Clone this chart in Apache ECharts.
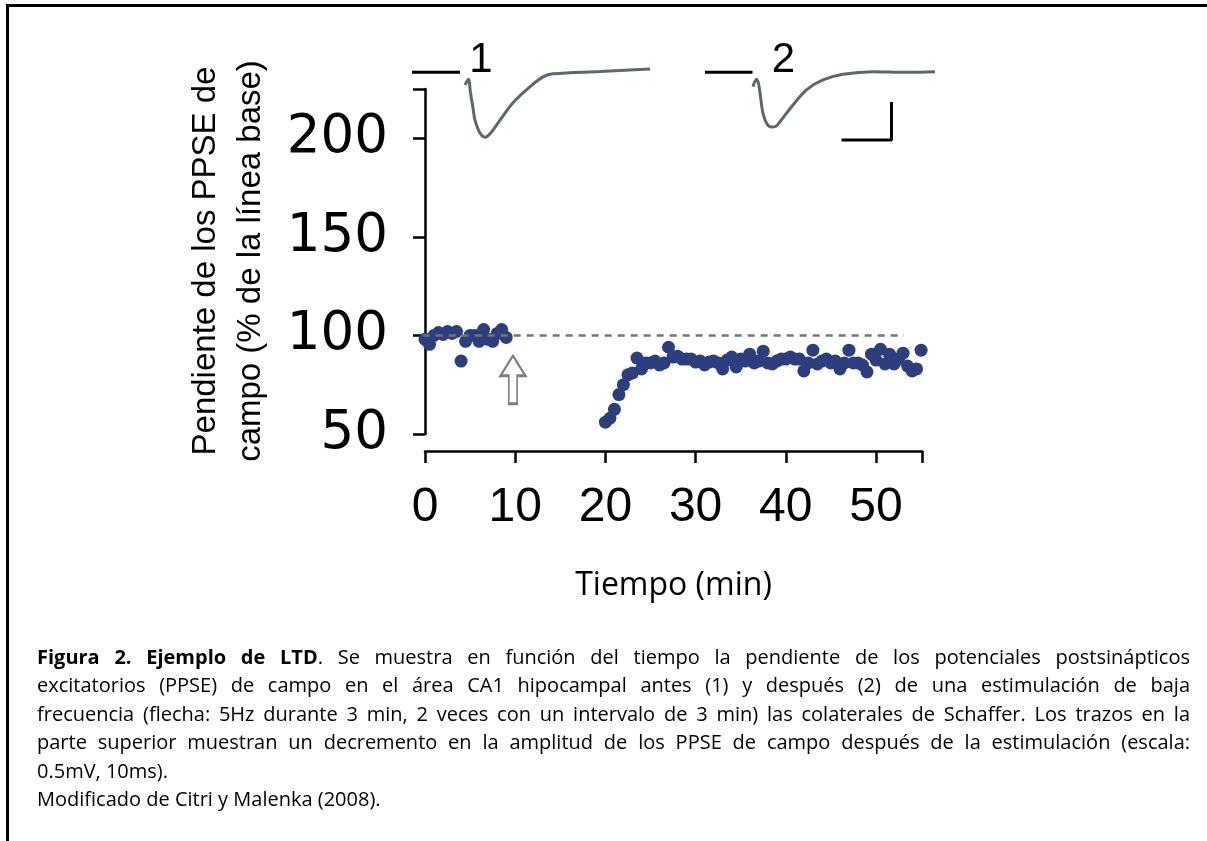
<!DOCTYPE html>
<html><head><meta charset="utf-8">
<script src="https://cdn.jsdelivr.net/npm/echarts@6/dist/echarts.min.js"></script>
<style>html,body{margin:0;padding:0;background:#fff}#c{width:1207px;height:841px}</style>
</head><body><div id="c"></div>
<script>
// ---- data ----
const baselineTime  = [0,0.5,1,1.5,2,2.5,3,3.5,4,4.5,5,5.5,6,6.5,7,7.5,8,8.5,9];
const baselineSlope = [98,95.5,100,101.5,100.5,102,101,102,87,97,100,100,97,103,98,97,101,103,99];
const postTime = [20,20.5,21,21.5,22,22.5,23,23.5,24,24.5,25,25.5,26,26.5,27,27.5,28,28.5,29,29.5,30,30.5,31,31.5,32,32.5,33,33.5,34,34.5,35,35.5,36,36.5,37,37.5,38,38.5,39,39.5,40,40.5,41,41.5,42,42.5,43,43.5,44,44.5,45,45.5,46,46.5,47,47.5,48,48.5,49,49.5,50,50.5,51,51.5,52,52.5,53,53.5,54,54.5,55];
const postSlope = [56,58,62.5,70,75,80,81,88.5,83,86,86,87,85,86,94,89,89.5,88,88,88,86.5,87,85,86.5,87,86,83,87.5,89,84,88,87,90.5,86,87,92,86,85.5,87,88,88,89,88,88,82,86,92.5,85.5,87,88,86,87,83,86,92.5,86,86,85,81.5,90.5,87.5,93,85.5,90.5,85.5,88,91,84.5,82,83,92.5];
const xTickLabels = [0,10,20,30,40,50];
const xAxisMax = 55.1;
const yTickLabels = [50,100,150,200];
const yAxisMin = 50, yAxisMax = 225;
const baselineRefTime = [-1.7, 53.1];
const baselineRefValue = 100;
const stimulusTime = 9.75, stimulusLevel = 77.5;
// sample traces: [time ms, amplitude mV]
const trace1Base = [[0,0],[9.6,0]];
const trace1 = [[10.6,-0.167],[11.27,-0.092],[11.7,-0.27],[12.2,-0.47],[12.6,-0.63],[13.6,-0.80],[14.6,-0.855],[15.6,-0.81],[17.6,-0.63],[20.2,-0.40],[23.6,-0.19],[26.2,-0.06],[28.2,-0.02],[37.6,0.01],[47.6,0.043]];
const trace2Base = [[58.6,0],[68.1,0]];
const trace2 = [[68.2,-0.19],[68.9,-0.092],[69.3,-0.15],[69.6,-0.27],[70.2,-0.54],[71.0,-0.68],[71.9,-0.72],[72.8,-0.71],[73.6,-0.65],[76.2,-0.43],[78.9,-0.23],[82.2,-0.10],[86.2,-0.026],[92.2,0.008],[99,0],[104.6,0.008]];
const scaleBar = [[85.9,-0.89],[95.9,-0.89],[95.9,-0.39]];
const traceLabels = [{text:'1', at:[13.8,0]}, {text:'2', at:[74.3,0]}];
const yTitle = 'Pendiente de los PPSE de\ncampo (% de la línea base)';
const xTitle = 'Tiempo (min)';
const captionLines = [
  {t:'**Figura 2. Ejemplo de LTD**. Se muestra en función del tiempo la pendiente de los potenciales postsinápticos', j:true},
  {t:'excitatorios (PPSE) de campo en el área CA1 hipocampal antes (1) y después (2) de una estimulación de baja', j:true},
  {t:'frecuencia (flecha: 5Hz durante 3 min, 2 veces con un intervalo de 3 min) las colaterales de Schaffer. Los trazos en la', j:true},
  {t:'parte superior muestran un decremento en la amplitud de los PPSE de campo después de la estimulación (escala:', j:true},
  {t:'0.5mV, 10ms).', j:false},
  {t:'Modificado de Citri y Malenka (2008).', j:false}
];

// ---- helpers ----
const pairs = (xs, ys) => xs.map((x,i)=>[x, ys[i]]);
const DOT = '#2c3e7e', TRACE = '#5c6770';
const AX = {color:'#000', width:2.5};

const chart = echarts.init(document.getElementById('c'));
const option = {
  animation:false,
  backgroundColor:'#fff',
  grid:[{left:425, top:89, width:497, height:345},{left:412, top:34.3, width:530, height:114}],
  xAxis:[
    {type:'value', gridIndex:0, min:0, max:xAxisMax, offset:17,
     axisLine:{lineStyle:AX}, axisTick:{length:12, lineStyle:AX, customValues:xTickLabels.concat([xAxisMax])},
     axisLabel:{customValues:xTickLabels, fontSize:48, fontFamily:'Liberation Sans', color:'#000', margin:33},
     splitLine:{show:false},
     name:xTitle, nameLocation:'middle', nameGap:119, nameTextStyle:{fontFamily:'Open Sans', fontSize:32, color:'#000'}},
    {type:'value', gridIndex:1, min:0, max:106, show:false}
  ],
  yAxis:[
    {type:'value', gridIndex:0, min:yAxisMin, max:yAxisMax, offset:23,
     axisLine:{lineStyle:AX}, axisTick:{length:12, lineStyle:AX, customValues:yTickLabels.concat([yAxisMax])},
     axisLabel:{customValues:yTickLabels, fontSize:53, fontFamily:'DejaVu Sans', color:'#000', margin:14},
     splitLine:{show:false}},
    {type:'value', gridIndex:1, min:-1, max:0.5, show:false}
  ],
  series:[
    {type:'scatter', xAxisIndex:0, yAxisIndex:0, data:pairs(baselineTime, baselineSlope), symbolSize:13, itemStyle:{color:DOT, opacity:1}, z:2},
    {type:'scatter', xAxisIndex:0, yAxisIndex:0, data:pairs(postTime, postSlope), symbolSize:13, itemStyle:{color:DOT, opacity:1}, z:2},
    {type:'line', xAxisIndex:0, yAxisIndex:0, data:baselineRefTime.map(t=>[t, baselineRefValue]), clip:false, symbol:'none',
     lineStyle:{color:'#6f777e', width:2.5, type:[7,6]}, z:3},
    {type:'scatter', xAxisIndex:0, yAxisIndex:0, data:[[stimulusTime, stimulusLevel]],
     symbol:'path://M12,0 L24,20 L16,20 L16,48 L8,48 L8,20 L0,20 Z', symbolSize:[25,48], symbolKeepAspect:false,
     itemStyle:{color:'#fff', borderColor:'#585e64', borderWidth:2.2}, z:4},
    {type:'line', xAxisIndex:1, yAxisIndex:1, data:trace1Base, symbol:'none', lineStyle:{color:'#000', width:3}},
    {type:'line', xAxisIndex:1, yAxisIndex:1, data:trace1, symbol:'none', smooth:0.35, lineStyle:{color:TRACE, width:3}},
    {type:'line', xAxisIndex:1, yAxisIndex:1, data:trace2Base, symbol:'none', lineStyle:{color:'#000', width:3}},
    {type:'line', xAxisIndex:1, yAxisIndex:1, data:trace2, symbol:'none', smooth:0.35, lineStyle:{color:TRACE, width:3}},
    {type:'line', xAxisIndex:1, yAxisIndex:1, data:scaleBar, symbol:'none', lineStyle:{color:'#000', width:3}}
  ]
};
chart.setOption(option);

// ---- graphic texts ----
const g = [];
g.push({type:'rect', shape:{x:6, y:4, width:3, height:841}, style:{fill:'#000'}});
g.push({type:'rect', shape:{x:6, y:4, width:1207, height:3}, style:{fill:'#000'}});
g.push({type:'text', x:228, y:261, rotation:Math.PI/2,
  style:{text:yTitle, font:'33px "Liberation Sans"', fill:'#000', align:'center', verticalAlign:'middle', lineHeight:45}});
traceLabels.forEach(l=>{
  const p = chart.convertToPixel({gridIndex:1}, l.at);
  g.push({type:'text', x:p[0], y:p[1]+9, style:{text:l.text, font:'42px "Liberation Sans"', fill:'#000', align:'center', verticalAlign:'bottom'}});
});
// caption (justified)
const ctx = document.createElement('canvas').getContext('2d');
const FAM = '"Open Sans"';
function parseWords(str){
  const parts = str.split('**'); const words=[[]];
  parts.forEach((p,idx)=>{ const bold = idx%2===1;
    p.split(' ').forEach((t,j)=>{ if(j>0) words.push([]); if(t) words[words.length-1].push({t,bold}); });
  });
  return words.filter(w=>w.length);
}
function wWidth(w,size){ return w.reduce((s,seg)=>{ctx.font=(seg.bold?'bold ':'')+size+'px '+FAM; return s+ctx.measureText(seg.t).width;},0); }
const LEFT=37, RIGHT=1190, W=RIGHT-LEFT;
ctx.font='100px '+FAM;
const nat3 = ctx.measureText(captionLines[2].t).width;
const FS = Math.min(20, 100*W/nat3);
ctx.font=FS+'px '+FAM; const SP = ctx.measureText(' ').width;
captionLines.forEach((ln,i)=>{
  const y = 658 + i*28.5;
  const words = parseWords(ln.t);
  const widths = words.map(w=>wWidth(w,FS));
  const tot = widths.reduce((a,b)=>a+b,0);
  const gap = ln.j ? (W-tot)/(words.length-1) : SP;
  let x = LEFT;
  words.forEach((w,k)=>{
    let xx = x;
    w.forEach(seg=>{
      const f=(seg.bold?'bold ':'')+FS+'px '+FAM;
      g.push({type:'text', x:xx, y:y, style:{text:seg.t, font:f, fill:'#000', align:'left', verticalAlign:'middle'}});
      ctx.font=f; xx += ctx.measureText(seg.t).width;
    });
    x += widths[k] + gap;
  });
});
chart.setOption({graphic:g});
</script></body></html>
